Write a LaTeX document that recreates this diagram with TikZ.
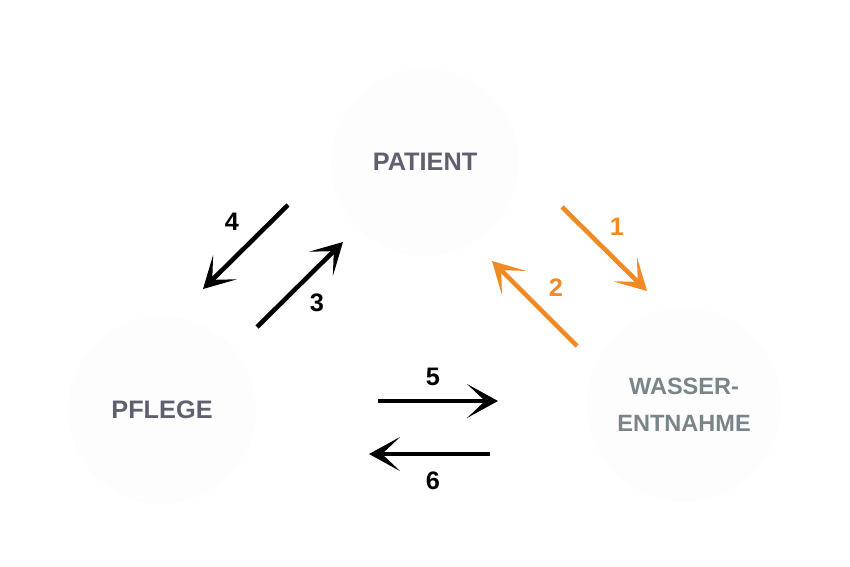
\documentclass[tikz,border=0pt]{standalone}
\usepackage{fontspec}
\setmainfont{Liberation Sans}
\usetikzlibrary{arrows.meta}
\definecolor{FlowOrange}{RGB}{240,138,36}
\definecolor{BubbleGrey}{RGB}{253,253,254}
\definecolor{LabelSlate}{RGB}{94,96,112}
\definecolor{LabelGrey}{RGB}{122,133,137}
\tikzset{flow/.style={-{Stealth[length=.31cm, width=.34cm, inset=.18cm]}, line width=1.3pt}}
\tikzset{bubble/.style={circle, fill=BubbleGrey, minimum size=1.88cm, inner sep=0pt, align=center, font=\bfseries\fontsize{7.2}{10.5}\selectfont}}
\tikzset{flownum/.style={inner sep=0pt, font=\bfseries\fontsize{7.2}{8}\selectfont}}

\begin{document}
\begin{tikzpicture}
  \useasboundingbox (0,0) rectangle (8.5,5.66);

  % --- the three parties ---
  \node[bubble, text=LabelSlate] (Patient) at (4.25,4.04) {PATIENT};
  \node[bubble, text=LabelSlate] (Pflege) at (1.62,1.56) {PFLEGE};
  \node[bubble, minimum size=1.95cm, text=LabelGrey, font=\bfseries\fontsize{6.7}{10.5}\selectfont] (Wasser) at (6.84,1.61) {WASSER-\\ENTNAHME};

  % --- patient <-> pflege ---
  \coordinate (F4s) at (2.88,3.61);
  \coordinate (F4e) at (2.03,2.77);
  \coordinate (F3s) at (2.57,2.39);
  \coordinate (F3e) at (3.43,3.24);
  \draw[flow] (F4s) -- (F4e);
  \draw[flow] (F3s) -- (F3e);
  \node[flownum] (N4) at (2.32,3.44) {4};
  \node[flownum] (N3) at (3.17,2.63) {3};

  % --- patient <-> wasserentnahme ---
  \coordinate (F1s) at (5.62,3.59);
  \coordinate (F1e) at (6.47,2.75);
  \coordinate (F2s) at (5.77,2.20);
  \coordinate (F2e) at (4.92,3.05);
  \draw[flow, FlowOrange] (F1s) -- (F1e);
  \draw[flow, FlowOrange] (F2s) -- (F2e);
  \node[flownum, text=FlowOrange] (N1) at (6.17,3.39) {1};
  \node[flownum, text=FlowOrange] (N2) at (5.56,2.78) {2};

  % --- pflege <-> wasserentnahme ---
  \coordinate (F5s) at (3.78,1.65);
  \coordinate (F5e) at (4.98,1.65);
  \coordinate (F6s) at (4.90,1.12);
  \coordinate (F6e) at (3.69,1.12);
  \draw[flow] (F5s) -- (F5e);
  \draw[flow] (F6s) -- (F6e);
  \node[flownum] (N5) at (4.33,1.89) {5};
  \node[flownum] (N6) at (4.33,0.85) {6};

\end{tikzpicture}
\end{document}
